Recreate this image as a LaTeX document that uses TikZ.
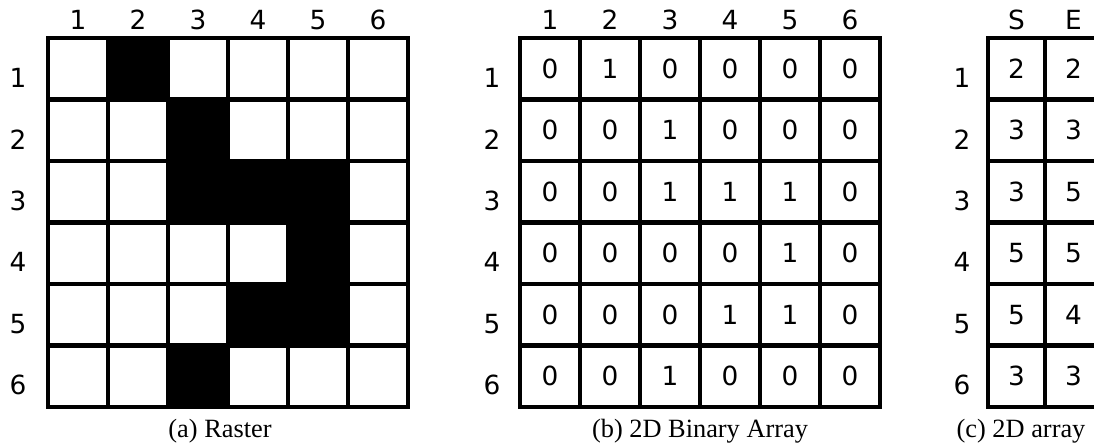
\documentclass[tikz,border=0pt]{standalone}
\usepackage{fontspec}
\setmainfont{Liberation Serif}
\newfontfamily\lblfont{DejaVu Sans}
\usetikzlibrary{positioning}

\begin{document}
\begin{tikzpicture}[x=0.02cm,y=-0.02cm,
  cell/.style={draw,line width=2.3pt,minimum width=1.2cm,minimum height=1.23cm,
               inner sep=0pt,outer sep=0pt,font=\lblfont\fontsize{15}{18}\selectfont},
  bit0/.style={fill=white},
  bit1/.style={fill=black},
  lbl/.style={inner sep=0pt,font=\lblfont\fontsize{15}{18}\selectfont},
  captxt/.style={inner sep=0pt,font=\fontsize{15}{18}\selectfont}]
\useasboundingbox (0,0) rectangle (1094,445);
\clip (0,0) rectangle (1094,445);
% (a) raster
\foreach \row [count=\r] in {{0,1,0,0,0,0},{0,0,1,0,0,0},{0,0,1,1,1,0},
                             {0,0,0,0,1,0},{0,0,0,1,1,0},{0,0,1,0,0,0}}{
  \foreach \v [count=\c] in \row
    \node[cell,bit\v] (ras-\r-\c) at (18+60*\c,7.25+61.5*\r) {};
  \node[lbl] (rasrow-\r) at (18,16.25+61.5*\r) {\r};
}
\foreach \c in {1,...,6}
  \node[lbl] (rascol-\c) at (18+60*\c,20) {\c};
\node[captxt] (capa) at (220,431) {(a) Raster};
% (b) binary array
\foreach \row [count=\r] in {{0,1,0,0,0,0},{0,0,1,0,0,0},{0,0,1,1,1,0},
                             {0,0,0,0,1,0},{0,0,0,1,1,0},{0,0,1,0,0,0}}{
  \foreach \v [count=\c] in \row
    \node[cell] (bin-\r-\c) at (490+60*\c,7.25+61.5*\r) {\v};
  \node[lbl] (binrow-\r) at (492,16.25+61.5*\r) {\r};
}
\foreach \c in {1,...,6}
  \node[lbl] (bincol-\c) at (490+60*\c,20) {\c};
\node[captxt] (capb) at (700,431) {(b) 2D Binary Array};
% (c) start / end array
\foreach \row [count=\r] in {{2,2},{3,3},{3,5},{5,5},{5,4},{3,3}}{
  \foreach \v [count=\c] in \row
    \node[cell,minimum width=1.14cm] (se-\r-\c) at (959.5+57*\c,7.25+61.5*\r) {\v};
  \node[lbl] (serow-\r) at (962,16.25+61.5*\r) {\r};
}
\node[lbl] (secol-1) at (1016.5,20) {S};
\node[lbl] (secol-2) at (1073.5,20) {E};
\node[captxt] (capc) at (1021,431) {(c) 2D array};
\end{tikzpicture}
\end{document}
